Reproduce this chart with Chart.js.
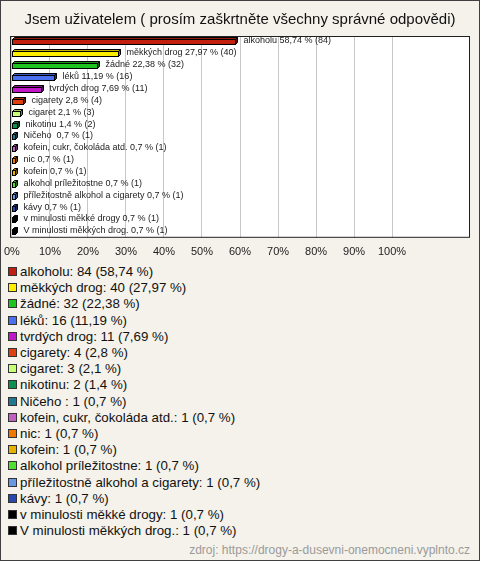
<!DOCTYPE html>
<html lang="cs">
<head>
  <meta charset="UTF-8" />
  <title>Jsem uživatelem</title>
  <script src="https://cdn.jsdelivr.net/npm/chart.js"></script>
  <style>
    body {
      margin: 0;
      font-family: Arial, "Liberation Sans", sans-serif;
    }
    #wrap {
      position: relative;
      width: 478px;
      height: 559px;
      border: 1px solid #404040;
      background-color: #f4f2ea;
      overflow: hidden;
    }
    #chart {
      display: block;
    }
    #legend {
      position: absolute;
      top: 263px;
      left: 7px;
      margin: 0;
      padding: 0;
      list-style: none;
      font-size: 13.3px;
      line-height: 16.2px;
      color: #111;
    }
    #legend li {
      white-space: nowrap;
    }
    #legend .sq {
      display: inline-block;
      width: 7px;
      height: 7px;
      border: 1px solid #333;
      margin-right: 3px;
      vertical-align: 0px;
    }
    #source {
      position: absolute;
      right: 9px;
      top: 542px;
      font-size: 12px;
      color: #9a9a9a;
    }
  </style>
</head>
<body>
<div id="wrap">
  <canvas id="chart" width="478" height="262"></canvas>
  <ul id="legend"></ul>
  <div id="source">zdroj: https://drogy-a-dusevni-onemocneni.vyplnto.cz</div>
</div>

<script>
  // données
  const categories = [
    'alkoholu', 'měkkých drog', 'žádné', 'léků', 'tvrdých drog', 'cigarety',
    'cigaret', 'nikotinu', 'Ničeho ', 'kofein, cukr, čokoláda atd.', 'nic',
    'kofein', 'alkohol príležitostne', 'příležitostně alkohol a cigarety',
    'kávy', 'v minulosti měkké drogy', 'V minulosti měkkých drog.'
  ];
  const counts = [84, 40, 32, 16, 11, 4, 3, 2, 1, 1, 1, 1, 1, 1, 1, 1, 1];
  const percents = [58.74, 27.97, 22.38, 11.19, 7.69, 2.8, 2.1, 1.4, 0.7, 0.7, 0.7, 0.7, 0.7, 0.7, 0.7, 0.7, 0.7];
  const colors = [
    '#c1200e', '#ffee00', '#1ec41e', '#4a70f0', '#c018c8', '#e04010',
    '#c8ff78', '#109050', '#207890', '#c060c0', '#f07800', '#e8b000',
    '#50e030', '#6898e0', '#2848b0', '#000000', '#000000'
  ];
  const tickValues = [0, 10, 20, 30, 40, 50, 60, 70, 80, 90, 100];

  const fmt = v => String(v).replace('.', ',');

  // assombrir une couleur pour les faces 3D
  function shade(hex, f) {
    const n = parseInt(hex.slice(1), 16);
    const r = Math.round(((n >> 16) & 255) * f);
    const g = Math.round(((n >> 8) & 255) * f);
    const b = Math.round((n & 255) * f);
    return `rgb(${r},${g},${b})`;
  }

  // fond blanc + cadre de la zone de tracé
  const plotBox = {
    id: 'plotBox',
    beforeDraw(chart) {
      const { ctx, chartArea: a } = chart;
      ctx.save();
      ctx.fillStyle = '#ffffff';
      ctx.fillRect(a.left, a.top, a.right - a.left, a.bottom - a.top);
      ctx.restore();
    },
    afterDraw(chart) {
      const { ctx, chartArea: a } = chart;
      ctx.save();
      ctx.strokeStyle = '#202020';
      ctx.lineWidth = 1;
      ctx.strokeRect(a.left + 0.5, a.top + 0.5, a.right - a.left - 1, a.bottom - a.top - 1);
      ctx.restore();
    }
  };

  // barres en relief + étiquettes
  const bars3d = {
    id: 'bars3d',
    afterDatasetsDraw(chart) {
      const ctx = chart.ctx;
      const meta = chart.getDatasetMeta(0);
      const d = 2;
      ctx.save();
      ctx.lineWidth = 1;
      ctx.strokeStyle = '#000';
      meta.data.forEach((bar, i) => {
        const p = bar.getProps(['x', 'y', 'base', 'height'], true);
        const x0 = Math.round(p.base) + 0.5;
        const x1 = Math.round(p.x) + 0.5;
        const top = Math.round(p.y - p.height / 2) + 0.5;
        const bot = Math.round(p.y + p.height / 2) + 0.5;
        // face du dessus
        ctx.beginPath();
        ctx.moveTo(x0, top);
        ctx.lineTo(x0 + d, top - d);
        ctx.lineTo(x1 + d, top - d);
        ctx.lineTo(x1, top);
        ctx.closePath();
        ctx.fillStyle = shade(colors[i], 0.75);
        ctx.fill();
        ctx.stroke();
        // face droite
        ctx.beginPath();
        ctx.moveTo(x1, top);
        ctx.lineTo(x1 + d, top - d);
        ctx.lineTo(x1 + d, bot - d);
        ctx.lineTo(x1, bot);
        ctx.closePath();
        ctx.fillStyle = shade(colors[i], 0.5);
        ctx.fill();
        ctx.stroke();
        // face avant
        ctx.fillStyle = colors[i];
        ctx.fillRect(x0, top, x1 - x0, bot - top);
        ctx.strokeRect(x0, top, x1 - x0, bot - top);
        // étiquette
        ctx.fillStyle = '#222';
        ctx.font = '9px Arial, "Liberation Sans", sans-serif';
        ctx.textBaseline = 'middle';
        ctx.fillText(`${categories[i]} ${fmt(percents[i])} % (${counts[i]})`, x1 + d + 6, p.y - 1);
      });
      ctx.restore();
    }
  };

  const ctx = document.getElementById('chart').getContext('2d');
  new Chart(ctx, {
    type: 'bar',
    data: {
      labels: categories,
      datasets: [{
        data: percents,
        backgroundColor: 'rgba(0,0,0,0)',
        borderWidth: 0,
        barThickness: 5
      }]
    },
    options: {
      responsive: false,
      animation: false,
      indexAxis: 'y',
      layout: { padding: { left: 9, right: 9, bottom: 4 } },
      plugins: {
        legend: { display: false },
        tooltip: { enabled: false },
        title: {
          display: true,
          text: 'Jsem uživatelem ( prosím zaškrtněte všechny správné odpovědi)',
          color: '#111',
          font: { family: 'Arial, "Liberation Sans", sans-serif', size: 15, weight: 'normal' },
          padding: { top: 10, bottom: 7 }
        }
      },
      scales: {
        x: {
          min: -0.5,
          max: 120.5,
          afterBuildTicks(axis) {
            axis.ticks = tickValues.map(v => ({ value: v }));
          },
          ticks: {
            color: '#222',
            font: { family: 'Arial, "Liberation Sans", sans-serif', size: 11 },
            padding: 0,
            maxRotation: 0,
            autoSkip: false,
            callback: v => v + '%'
          },
          grid: { color: '#c8c8c8', drawTicks: true, tickLength: 8, tickColor: 'rgba(0,0,0,0)' },
          border: { display: false }
        },
        y: {
          display: false
        }
      }
    },
    plugins: [plotBox, bars3d]
  });

  // légende HTML
  const legend = document.getElementById('legend');
  categories.forEach((name, i) => {
    const li = document.createElement('li');
    li.innerHTML = `<span class="sq" style="background:${colors[i]}"></span>${name}: ${counts[i]} (${fmt(percents[i])} %)`;
    legend.appendChild(li);
  });
</script>
</body>
</html>
